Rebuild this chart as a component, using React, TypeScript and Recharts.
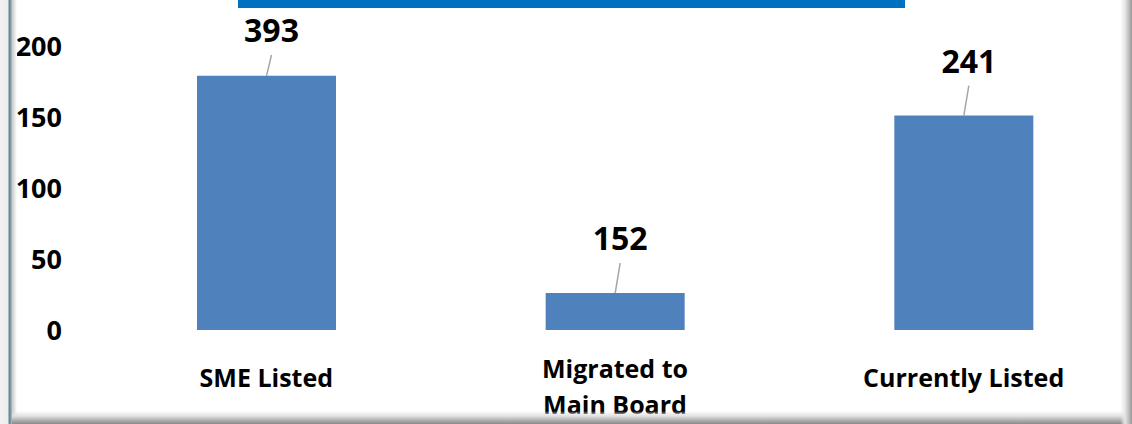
import React from "react";
import { BarChart, Bar, XAxis, YAxis, LabelList } from "recharts";

const categories = ["SME Listed", "Migrated to Main Board", "Currently Listed"];
const barHeights = [179, 26, 151];
const labelValues = [393, 152, 241];
const yTicks = [0, 50, 100, 150, 200];

const data = categories.map((name, i) => ({
  name,
  height: barHeights[i],
  label: labelValues[i],
}));

const FONT = "'Open Sans', 'Noto Sans', sans-serif";

function wrap(label: string): string[] {
  if (label.length <= 16) return [label];
  const words = label.split(" ");
  const half = Math.ceil(words.length / 2);
  return [words.slice(0, half).join(" "), words.slice(half).join(" ")];
}

const XTick = (props: any) => {
  const { x, y, payload } = props;
  const lines = wrap(String(payload.value));
  const first = lines.length > 1 ? y + 48 : y + 57;
  return (
    <g>
      {lines.map((ln, i) => (
        <text
          key={i}
          x={x}
          y={first + i * 36}
          textAnchor="middle"
          fontFamily={FONT}
          fontWeight={700}
          fontSize={25}
          fill="#000"
        >
          {ln}
        </text>
      ))}
    </g>
  );
};

const YTick = (props: any) => {
  const { y, payload } = props;
  return (
    <text
      x={62}
      y={y}
      dy="0.357em"
      textAnchor="end"
      fontFamily={FONT}
      fontWeight={700}
      fontSize={27}
      fill="#000"
    >
      {payload.value}
    </text>
  );
};

const ValueLabel = (props: any) => {
  const { x, y, width, value } = props;
  const cx = x + width / 2;
  const baseline = Math.max(y - 43, 42);
  const lineTop = baseline + 13;
  return (
    <g>
      <line x1={cx} y1={y} x2={cx + 5} y2={lineTop} stroke="#a6a6a6" strokeWidth={1.5} />
      <text
        x={cx + 5}
        y={baseline}
        textAnchor="middle"
        fontFamily={FONT}
        fontWeight={700}
        fontSize={32}
        fill="#000"
      >
        {value}
      </text>
    </g>
  );
};

export default function App() {
  return (
    <div
      style={{
        position: "absolute",
        left: 0,
        top: 0,
        width: 1132,
        height: 424,
        overflow: "hidden",
        background: "#fff",
        fontFamily: FONT,
      }}
    >
      <div style={{ position: "absolute", left: 0, top: 0 }}>
        <BarChart
          width={1138}
          height={424}
          data={data}
          margin={{ top: 46, right: 0, bottom: 0, left: 0 }}
        >
          <XAxis
            dataKey="name"
            height={94}
            axisLine={false}
            tickLine={false}
            tickSize={0}
            tickMargin={0}
            interval={0}
            tick={<XTick />}
          />
          <YAxis
            width={92}
            domain={[0, 200]}
            ticks={yTicks}
            axisLine={false}
            tickLine={false}
            tickSize={0}
            tickMargin={0}
            tick={<YTick />}
          />
          <Bar dataKey="height" fill="#4F81BD" barSize={139} isAnimationActive={false}>
            <LabelList dataKey="label" content={<ValueLabel />} />
          </Bar>
        </BarChart>
      </div>
      {/* title band */}
      <div
        style={{
          position: "absolute",
          left: 238,
          top: 0,
          width: 667,
          height: 8,
          background: "#0070C0",
        }}
      />
      {/* left frame */}
      <div
        style={{
          position: "absolute",
          left: 0,
          top: 0,
          width: 17,
          height: 424,
          background:
            "linear-gradient(to right, #f2f2f2 0px, #ececec 8px, #5d8595 9px, #7f9fac 11px, #c8c8c8 12px, #ffffff 17px)",
        }}
      />
      {/* bottom frame */}
      <div
        style={{
          position: "absolute",
          left: 12,
          top: 411,
          width: 1120,
          height: 13,
          background:
            "linear-gradient(to bottom, rgba(255,255,255,0) 0px, #e2e2e2 5px, #a8a8a8 10px, #8a8a8a 13px)",
        }}
      />
      {/* right frame */}
      <div
        style={{
          position: "absolute",
          left: 1120,
          top: 0,
          width: 12,
          height: 424,
          background:
            "linear-gradient(to right, rgba(255,255,255,0) 0px, #e6e6e6 5px, #b0b0b0 10px, #969696 12px)",
        }}
      />
    </div>
  );
}
